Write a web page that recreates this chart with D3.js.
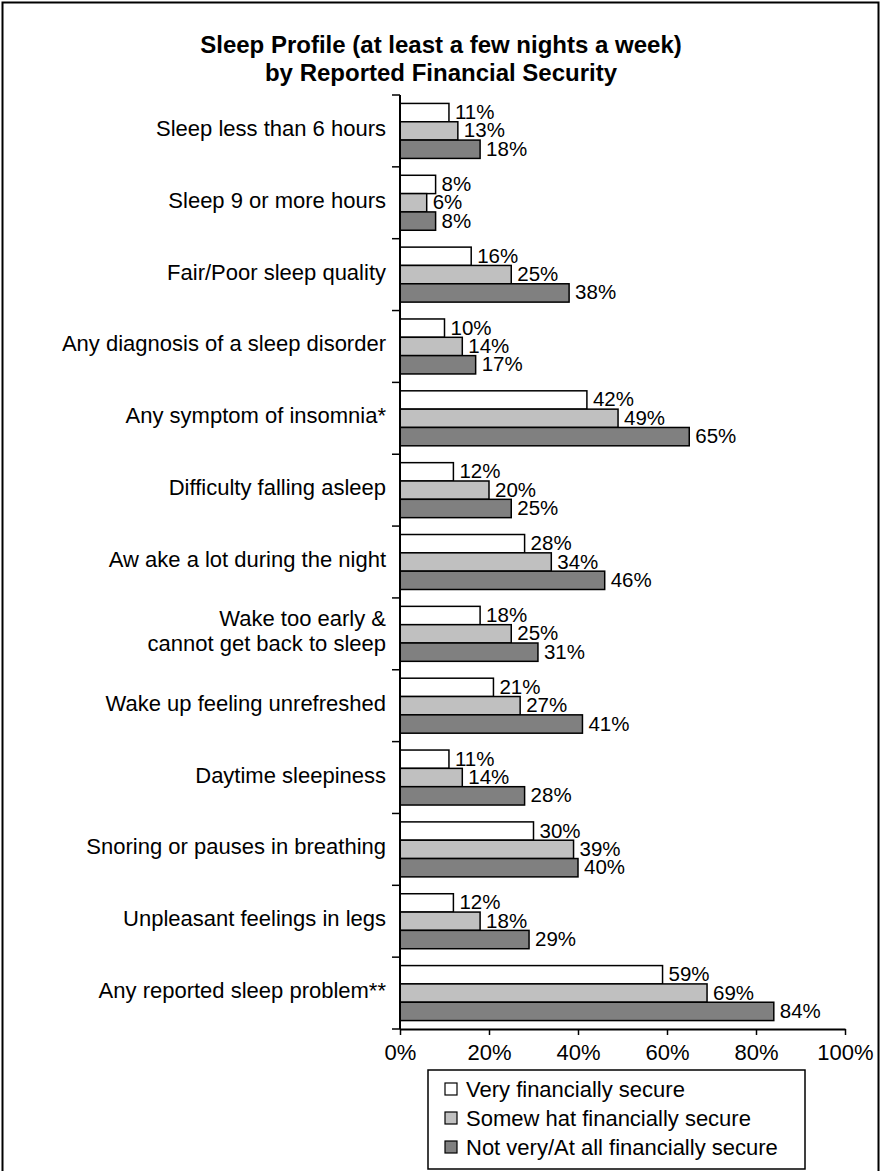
<!DOCTYPE html>
<html><head><meta charset="utf-8">
<script src="https://cdn.jsdelivr.net/npm/d3@7"></script>
<style>body{margin:0;background:#fff}svg{display:block}text{font-family:"Liberation Sans",Arial,sans-serif;fill:#000}</style>
</head><body><svg id="c" width="881" height="1171"></svg>
<script>
const titleLines = ["Sleep Profile (at least a few nights a week)", "by Reported Financial Security"];
const categories = [
  ["Sleep less than 6 hours"],
  ["Sleep 9 or more hours"],
  ["Fair/Poor sleep quality"],
  ["Any diagnosis of a sleep disorder"],
  ["Any symptom of insomnia*"],
  ["Difficulty falling asleep"],
  ["Aw ake a lot during the night"],
  ["Wake too early &", "cannot get back to sleep"],
  ["Wake up feeling unrefreshed"],
  ["Daytime sleepiness"],
  ["Snoring or pauses in breathing"],
  ["Unpleasant feelings in legs"],
  ["Any reported sleep problem**"]
];
const seriesNames = ["Very financially secure", "Somew hat financially secure", "Not very/At all financially secure"];
const veryValues     = [11, 8, 16, 10, 42, 12, 28, 18, 21, 11, 30, 12, 59];
const somewhatValues = [13, 6, 25, 14, 49, 20, 34, 25, 27, 14, 39, 18, 69];
const notValues      = [18, 8, 38, 17, 65, 25, 46, 31, 41, 28, 40, 29, 84];
const xTicks = [0, 20, 40, 60, 80, 100];
const colors = ["#ffffff", "#c0c0c0", "#808080"];

const series = [veryValues, somewhatValues, notValues];
const svg = d3.select("#c");
const FS = 22;

// outer frame
svg.append("rect").attr("x", 2.5).attr("y", 2.5).attr("width", 876).attr("height", 1180)
  .attr("fill", "none").attr("stroke", "#000").attr("stroke-width", 2);

// title
svg.append("g").selectAll("text").data(titleLines).join("text")
  .attr("x", 441).attr("y", (d, i) => 53 + i * 28)
  .attr("text-anchor", "middle").style("font-weight", "bold").style("font-size", "24px")
  .text(d => d);

const x0 = 400, x1 = 845, yTop = 95, yBot = 1029;
const x = d3.scaleLinear().domain([0, 100]).range([x0, x1]);
const y = d3.scaleBand().domain(d3.range(categories.length)).range([yTop, yBot]).paddingInner(0).paddingOuter(0);
const inner = d3.scaleBand().domain([0, 1, 2]).range([0, y.bandwidth()]).paddingOuter(0.46).paddingInner(0);

const g = svg.append("g");
// bars
series.forEach((vals, s) => {
  g.append("g").selectAll("rect").data(vals).join("rect")
    .attr("x", x(0)).attr("y", (d, i) => y(i) + inner(s))
    .attr("width", d => x(d) - x(0)).attr("height", inner.bandwidth())
    .attr("fill", colors[s]).attr("stroke", "#000").attr("stroke-width", 1.5);
});
series.forEach((vals, s) => {
  g.append("g").selectAll("text").data(vals).join("text")
    .attr("x", d => x(d) + 6).attr("y", (d, i) => y(i) + inner(s) + inner.bandwidth() / 2 - 1)
    .attr("dominant-baseline", "central").style("font-size", "20.5px")
    .text(d => d + "%");
});

// y axis
const yAxis = g.append("g");
yAxis.append("line").attr("x1", x0).attr("x2", x0).attr("y1", yTop).attr("y2", yBot)
  .attr("stroke", "#000").attr("stroke-width", 2);
yAxis.selectAll("line.t").data(d3.range(categories.length + 1)).join("line").attr("class", "t")
  .attr("x1", x0 - 8).attr("x2", x0).attr("y1", i => yTop + i * y.step()).attr("y2", i => yTop + i * y.step())
  .attr("stroke", "#000").attr("stroke-width", 1.5);

// x axis
const xAxis = g.append("g").attr("transform", `translate(0,${yBot})`)
  .call(d3.axisBottom(x).tickValues(xTicks).tickFormat(d => d + "%").tickSize(6).tickPadding(9).tickSizeOuter(0));
xAxis.select(".domain").attr("stroke-width", 2);
xAxis.selectAll(".tick line").attr("stroke-width", 1.5);
xAxis.selectAll(".tick text").style("font-size", FS + "px").style("font-family", '"Liberation Sans",Arial,sans-serif');

// category labels
const lab = g.append("g").selectAll("text").data(categories).join("text")
  .attr("text-anchor", "end").style("font-size", FS + "px")
  .attr("x", x0 - 14)
  .attr("y", (d, i) => y(i) + y.bandwidth() / 2 - 3);
lab.each(function(d) {
  const t = d3.select(this);
  const n = d.length;
  d.forEach((line, k) => {
    t.append("tspan").attr("x", x0 - 14)
      .attr("dy", k === 0 ? ((-(n - 1) / 2) * 25 + 8) + "px" : "25px")
      .text(line);
  });
});

// legend
const lg = svg.append("g");
lg.append("rect").attr("x", 428).attr("y", 1070).attr("width", 377).attr("height", 99)
  .attr("fill", "#fff").attr("stroke", "#000").attr("stroke-width", 1.5);
seriesNames.forEach((name, s) => {
  const cy = 1089 + s * 29;
  lg.append("rect").attr("x", 445).attr("y", cy - 6).attr("width", 12).attr("height", 12)
    .attr("fill", colors[s]).attr("stroke", "#000").attr("stroke-width", 1.2);
  lg.append("text").attr("x", 466).attr("y", cy).attr("dominant-baseline", "central")
    .style("font-size", FS + "px").text(name);
});
</script></body></html>
